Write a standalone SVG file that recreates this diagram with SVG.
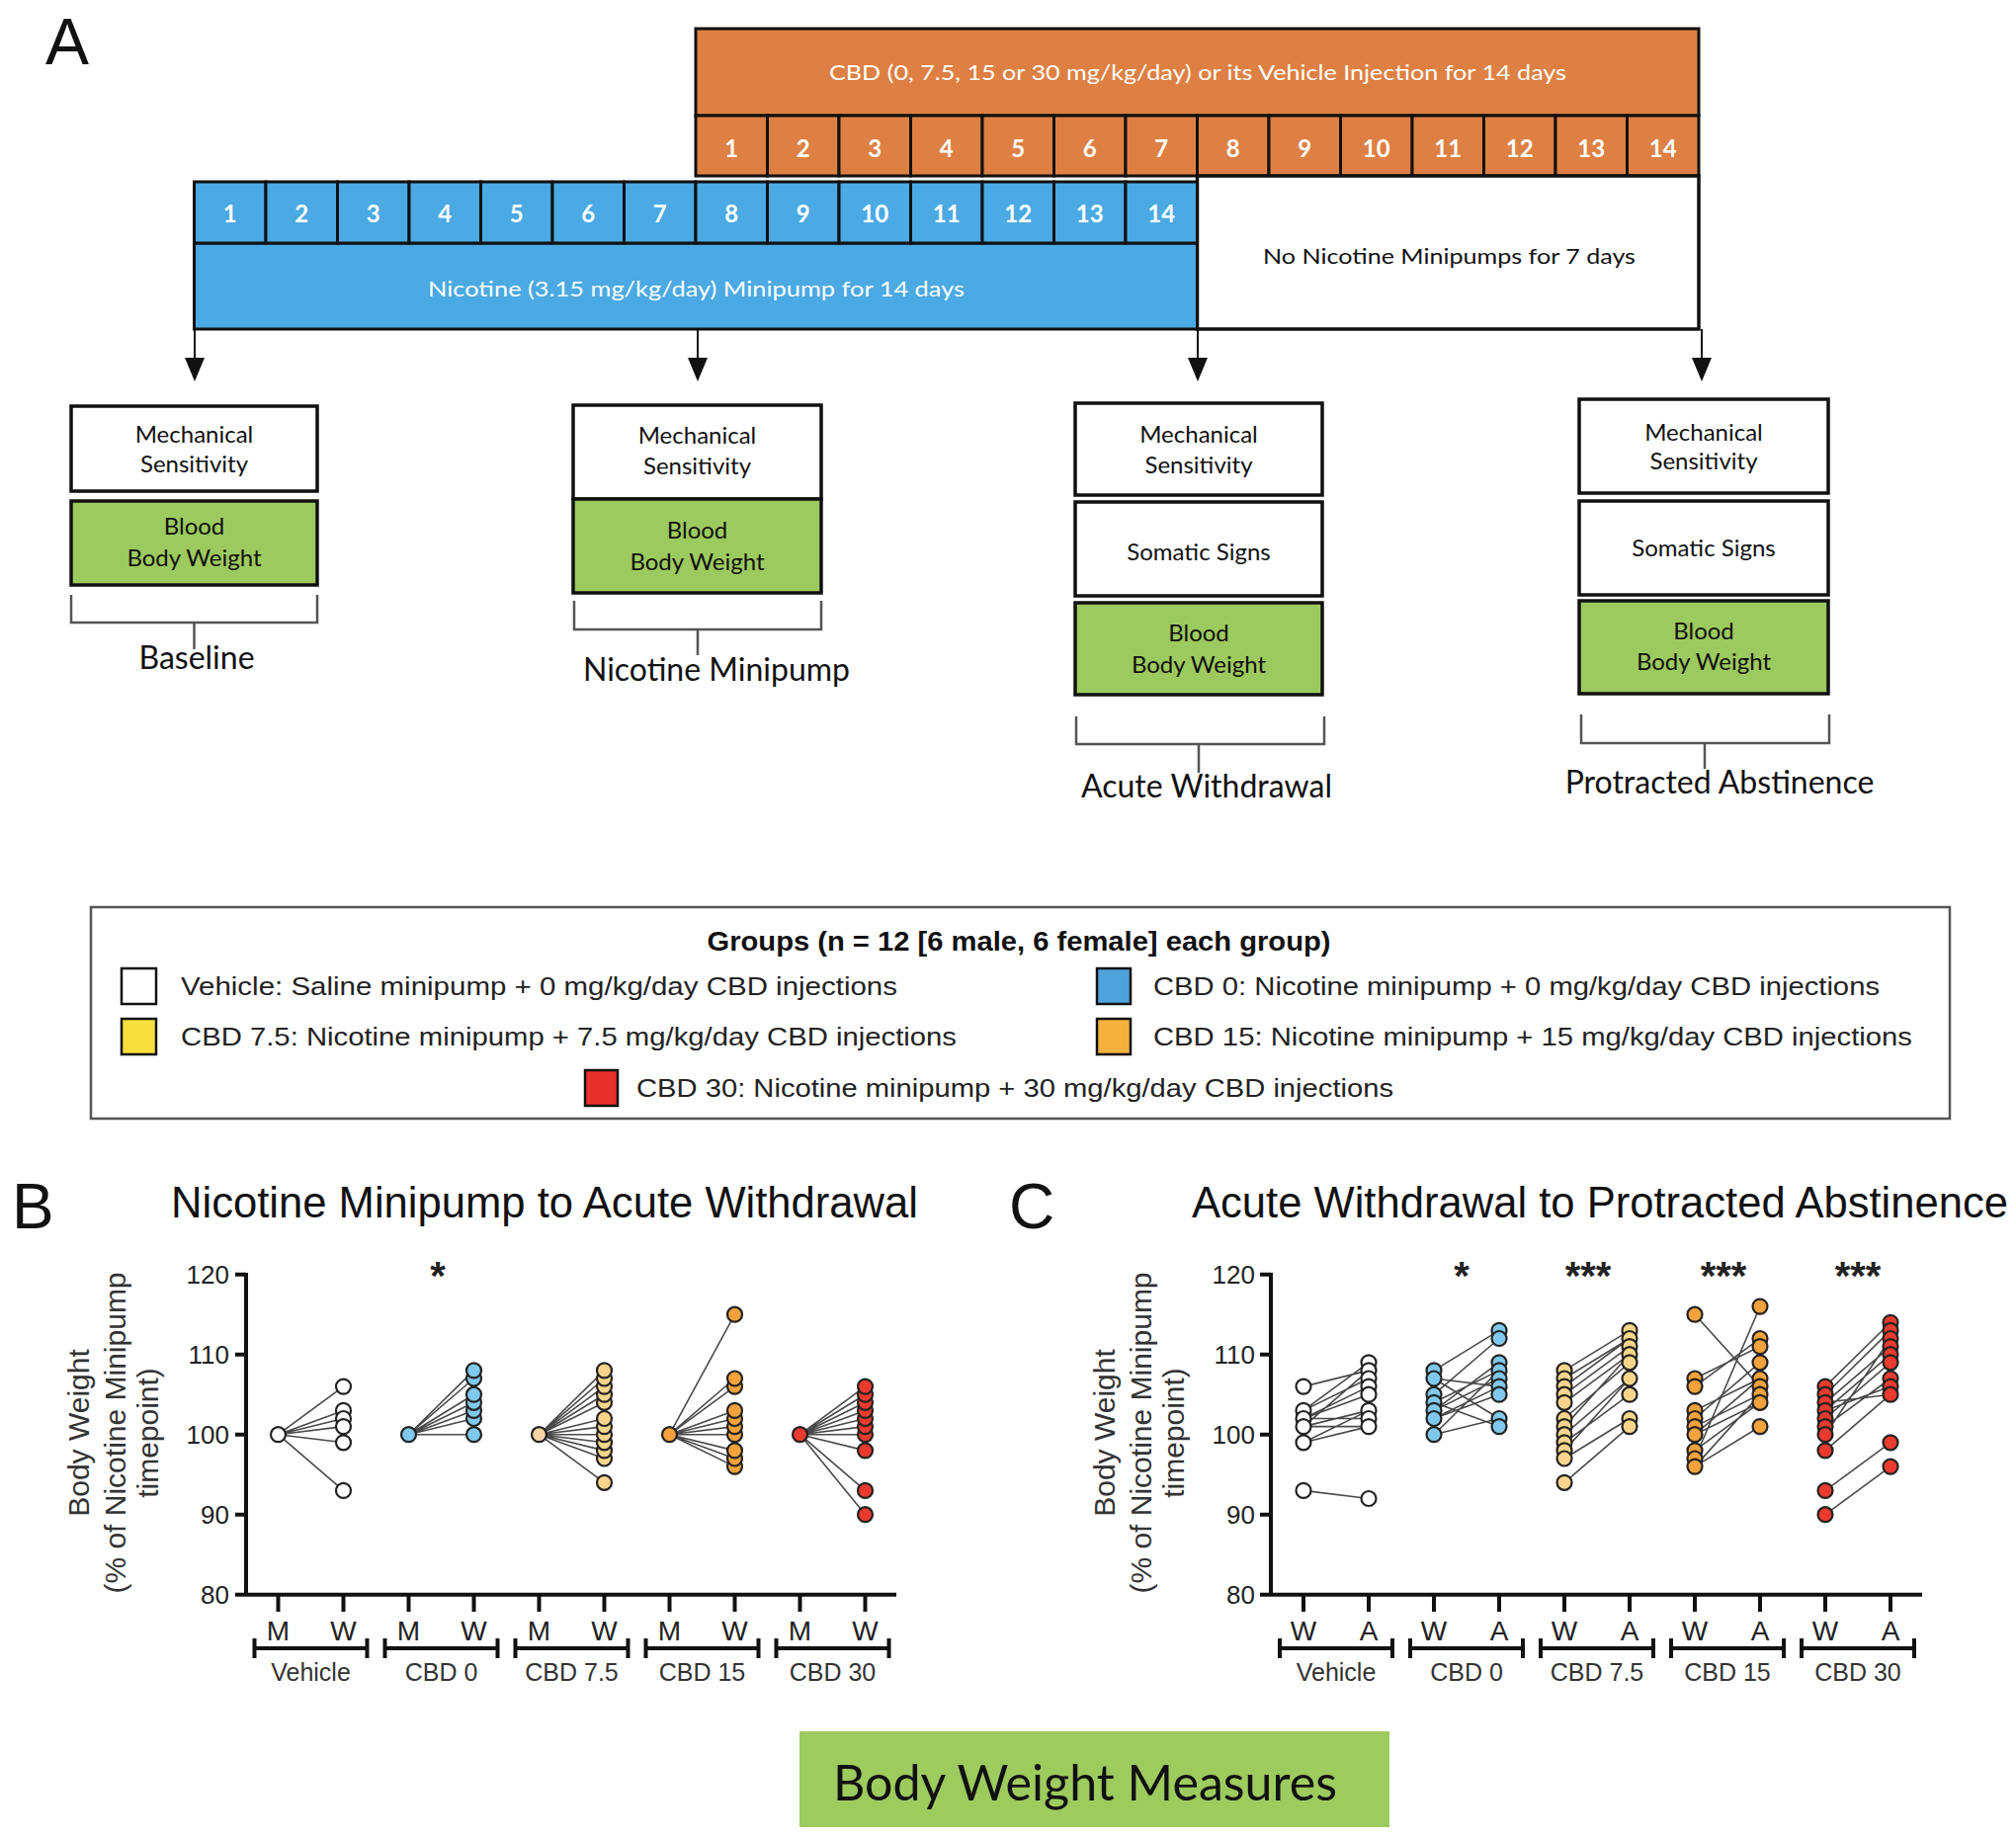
<svg xmlns="http://www.w3.org/2000/svg" width="2040" height="1860" viewBox="0 0 2040 1860">
<style>
.cal{font-family:Lato,"Open Sans","Liberation Sans",sans-serif}
.ar{font-family:"Liberation Sans",Arial,sans-serif}
.or{fill:#DE8043;stroke:#111;stroke-width:3}
.bl{fill:#4BA9E3;stroke:#111;stroke-width:3}
.gr{fill:#9DCA5E;stroke:#111;stroke-width:3.5}
.wb{fill:#fff;stroke:#111;stroke-width:3.5}
.num{font-size:24px;fill:#fff;text-anchor:middle;font-weight:bold}
.mtxt{font-size:24px;fill:#111;text-anchor:middle}
.lab{font-size:32px;fill:#111;text-anchor:middle}
.brk{fill:none;stroke:#555;stroke-width:2.5}
.ax{stroke:#111;stroke-width:4;fill:none}
.tl{font-size:26px;fill:#222;text-anchor:end}
.xl{font-size:28px;fill:#222;text-anchor:middle}
.gl{font-size:25px;fill:#333;text-anchor:middle}
.yt{font-size:30px;fill:#333;text-anchor:middle}
.dl{stroke:#4a4a4a;stroke-width:1.6;fill:none}
.pt{stroke:#222;stroke-width:2.2}
.pv{fill:#fff}.p0{fill:#80C8EC}.p7{fill:#F8D58A}.p7m{fill:#F9D3A5}.p15{fill:#F3A23C}.p30{fill:#EA3B2F}
.lg{font-size:26px;fill:#222}
.sq{stroke:#111;stroke-width:2.5}
.ast{font-size:40px;font-weight:bold;fill:#222;text-anchor:middle}
</style>

<text class="ar" x="46" y="65" font-size="66" fill="#111">A</text>

<g id="timeline">
  <g id="cbd-bar">
    <rect class="or" x="704" y="29" width="1015" height="88"/>
    <text class="cal" x="1212" y="81" font-size="22" fill="#fff" text-anchor="middle" textLength="746" lengthAdjust="spacingAndGlyphs">CBD (0, 7.5, 15 or 30 mg/kg/day) or its Vehicle Injection for 14 days</text>
    <g class="cal">
      <rect class="or" x="704" y="117" width="72.5" height="61"/><text class="num" x="740.25" y="159">1</text>
      <rect class="or" x="776.5" y="117" width="72.5" height="61"/><text class="num" x="812.75" y="159">2</text>
      <rect class="or" x="849" y="117" width="72.5" height="61"/><text class="num" x="885.25" y="159">3</text>
      <rect class="or" x="921.5" y="117" width="72.5" height="61"/><text class="num" x="957.75" y="159">4</text>
      <rect class="or" x="994" y="117" width="72.5" height="61"/><text class="num" x="1030.25" y="159">5</text>
      <rect class="or" x="1066.5" y="117" width="72.5" height="61"/><text class="num" x="1102.75" y="159">6</text>
      <rect class="or" x="1139" y="117" width="72.5" height="61"/><text class="num" x="1175.25" y="159">7</text>
      <rect class="or" x="1211.5" y="117" width="72.5" height="61"/><text class="num" x="1247.75" y="159">8</text>
      <rect class="or" x="1284" y="117" width="72.5" height="61"/><text class="num" x="1320.25" y="159">9</text>
      <rect class="or" x="1356.5" y="117" width="72.5" height="61"/><text class="num" x="1392.75" y="159">10</text>
      <rect class="or" x="1429" y="117" width="72.5" height="61"/><text class="num" x="1465.25" y="159">11</text>
      <rect class="or" x="1501.5" y="117" width="72.5" height="61"/><text class="num" x="1537.75" y="159">12</text>
      <rect class="or" x="1574" y="117" width="72.5" height="61"/><text class="num" x="1610.25" y="159">13</text>
      <rect class="or" x="1646.5" y="117" width="72.5" height="61"/><text class="num" x="1682.75" y="159">14</text>
    </g>
  </g>
  <g id="no-nicotine">
    <rect class="wb" x="1211.5" y="178" width="507.5" height="155" stroke-width="3"/>
    <text class="cal" x="1466.5" y="267" font-size="22" fill="#111" text-anchor="middle" textLength="377" lengthAdjust="spacingAndGlyphs">No Nicotine Minipumps for 7 days</text>
  </g>
  <g id="nicotine-bar">
    <rect class="bl" x="196.5" y="246" width="1015" height="87"/>
    <text class="cal" x="704.5" y="300" font-size="22" fill="#fff" text-anchor="middle" textLength="543" lengthAdjust="spacingAndGlyphs">Nicotine (3.15 mg/kg/day) Minipump for 14 days</text>
    <g class="cal">
      <rect class="bl" x="196.5" y="184" width="72.5" height="62"/><text class="num" x="232.75" y="225">1</text>
      <rect class="bl" x="269" y="184" width="72.5" height="62"/><text class="num" x="305.25" y="225">2</text>
      <rect class="bl" x="341.5" y="184" width="72.5" height="62"/><text class="num" x="377.75" y="225">3</text>
      <rect class="bl" x="414" y="184" width="72.5" height="62"/><text class="num" x="450.25" y="225">4</text>
      <rect class="bl" x="486.5" y="184" width="72.5" height="62"/><text class="num" x="522.75" y="225">5</text>
      <rect class="bl" x="559" y="184" width="72.5" height="62"/><text class="num" x="595.25" y="225">6</text>
      <rect class="bl" x="631.5" y="184" width="72.5" height="62"/><text class="num" x="667.75" y="225">7</text>
      <rect class="bl" x="704" y="184" width="72.5" height="62"/><text class="num" x="740.25" y="225">8</text>
      <rect class="bl" x="776.5" y="184" width="72.5" height="62"/><text class="num" x="812.75" y="225">9</text>
      <rect class="bl" x="849" y="184" width="72.5" height="62"/><text class="num" x="885.25" y="225">10</text>
      <rect class="bl" x="921.5" y="184" width="72.5" height="62"/><text class="num" x="957.75" y="225">11</text>
      <rect class="bl" x="994" y="184" width="72.5" height="62"/><text class="num" x="1030.25" y="225">12</text>
      <rect class="bl" x="1066.5" y="184" width="72.5" height="62"/><text class="num" x="1102.75" y="225">13</text>
      <rect class="bl" x="1139" y="184" width="72.5" height="62"/><text class="num" x="1175.25" y="225">14</text>
    </g>
  </g>
</g>

<g id="connectors">
  <g stroke="#111" stroke-width="2">
    <line x1="197" y1="333" x2="197" y2="364"/>
    <line x1="706" y1="333" x2="706" y2="364"/>
    <line x1="1212" y1="333" x2="1212" y2="364"/>
    <line x1="1722" y1="333" x2="1722" y2="364"/>
  </g>
  <g fill="#111">
    <polygon points="187,362 207,362 197,386"/>
    <polygon points="696,362 716,362 706,386"/>
    <polygon points="1202,362 1222,362 1212,386"/>
    <polygon points="1712,362 1732,362 1722,386"/>
  </g>
  <path class="brk" d="M72 602V630H321V602M196.5 630V657"/>
  <path class="brk" d="M581 608V637H831V608M706 637V663"/>
  <path class="brk" d="M1089 725V753H1340V725M1213 753V782"/>
  <path class="brk" d="M1600 723V752H1851V723M1725 752V778"/>
</g>

<g id="baseline" class="cal">
  <rect class="wb" x="72" y="411" width="249" height="86"/>
  <text class="mtxt" x="196.5" y="448">Mechanical</text>
  <text class="mtxt" x="196.5" y="478">Sensitivity</text>
  <rect class="gr" x="72" y="507" width="249" height="85"/>
  <text class="mtxt" x="196.5" y="541">Blood</text>
  <text class="mtxt" x="196.5" y="573">Body Weight</text>
  <text class="lab" x="199" y="677">Baseline</text>
</g>

<g id="nicotine-minipump" class="cal">
  <rect class="wb" x="580" y="410" width="251" height="95"/>
  <text class="mtxt" x="705.5" y="449">Mechanical</text>
  <text class="mtxt" x="705.5" y="480">Sensitivity</text>
  <rect class="gr" x="580" y="505" width="251" height="95"/>
  <text class="mtxt" x="705.5" y="545">Blood</text>
  <text class="mtxt" x="705.5" y="577">Body Weight</text>
  <text class="lab" x="725" y="689">Nicotine Minipump</text>
</g>

<g id="acute-withdrawal" class="cal">
  <rect class="wb" x="1088" y="408" width="250" height="93"/>
  <text class="mtxt" x="1213" y="448">Mechanical</text>
  <text class="mtxt" x="1213" y="479">Sensitivity</text>
  <rect class="wb" x="1088" y="508" width="250" height="95"/>
  <text class="mtxt" x="1213" y="567">Somatic Signs</text>
  <rect class="gr" x="1088" y="610" width="250" height="93"/>
  <text class="mtxt" x="1213" y="649">Blood</text>
  <text class="mtxt" x="1213" y="681">Body Weight</text>
  <text class="lab" x="1221" y="807">Acute Withdrawal</text>
</g>

<g id="protracted-abstinence" class="cal">
  <rect class="wb" x="1598" y="404" width="252" height="95"/>
  <text class="mtxt" x="1724" y="446">Mechanical</text>
  <text class="mtxt" x="1724" y="475">Sensitivity</text>
  <rect class="wb" x="1598" y="507" width="252" height="95"/>
  <text class="mtxt" x="1724" y="563">Somatic Signs</text>
  <rect class="gr" x="1598" y="608" width="252" height="94"/>
  <text class="mtxt" x="1724" y="647">Blood</text>
  <text class="mtxt" x="1724" y="678">Body Weight</text>
  <text class="lab" x="1740" y="803">Protracted Abstinence</text>
</g>

<g id="legend" class="ar">
  <rect x="92" y="918" width="1881" height="214" fill="#fff" stroke="#555" stroke-width="2.5"/>
  <text x="1031" y="962" font-size="27" font-weight="bold" fill="#111" text-anchor="middle" textLength="631" lengthAdjust="spacingAndGlyphs">Groups (n = 12 [6 male, 6 female] each group)</text>
  <rect class="sq" x="123" y="980" width="35" height="36" fill="#fff"/>
  <text class="lg" x="183" y="1007" textLength="725" lengthAdjust="spacingAndGlyphs">Vehicle: Saline minipump + 0 mg/kg/day CBD injections</text>
  <rect class="sq" x="1110" y="980" width="34" height="36" fill="#4EA3DC"/>
  <text class="lg" x="1167" y="1007" textLength="735" lengthAdjust="spacingAndGlyphs">CBD 0: Nicotine minipump + 0 mg/kg/day CBD injections</text>
  <rect class="sq" x="123" y="1031" width="35" height="36" fill="#F8DF3B"/>
  <text class="lg" x="183" y="1058" textLength="785" lengthAdjust="spacingAndGlyphs">CBD 7.5: Nicotine minipump + 7.5 mg/kg/day CBD injections</text>
  <rect class="sq" x="1110" y="1031" width="34" height="36" fill="#F4B13E"/>
  <text class="lg" x="1167" y="1058" textLength="768" lengthAdjust="spacingAndGlyphs">CBD 15: Nicotine minipump + 15 mg/kg/day CBD injections</text>
  <rect class="sq" x="592" y="1083" width="33" height="36" fill="#E8302A"/>
  <text class="lg" x="644" y="1110" textLength="766" lengthAdjust="spacingAndGlyphs">CBD 30: Nicotine minipump + 30 mg/kg/day CBD injections</text>
</g>

<g id="panel-B" class="ar">
  <text x="12" y="1243" font-size="64" fill="#111">B</text>
  <text x="551" y="1232" font-size="44" fill="#111" text-anchor="middle" textLength="756" lengthAdjust="spacingAndGlyphs">Nicotine Minipump to Acute Withdrawal</text>
  <text class="yt" transform="translate(90,1450) rotate(-90)">Body Weight</text>
  <text class="yt" transform="translate(127,1450) rotate(-90)">(% of Nicotine Minipump</text>
  <text class="yt" transform="translate(160,1450) rotate(-90)">timepoint)</text>
  <path class="ax" d="M249 1288V1613.7H907M238 1289.7H249M238 1370.7H249M238 1451.7H249M238 1532.7H249M238 1613.7H249"/>
  <text class="tl" x="232" y="1299">120</text>
  <text class="tl" x="232" y="1380">110</text>
  <text class="tl" x="232" y="1461">100</text>
  <text class="tl" x="232" y="1542">90</text>
  <text class="tl" x="232" y="1623">80</text>
  <path class="ax" d="M281.5 1613.7V1631M347.5 1613.7V1631M413.5 1613.7V1631M479.5 1613.7V1631M545.5 1613.7V1631M611.5 1613.7V1631M677.5 1613.7V1631M743.5 1613.7V1631M809.5 1613.7V1631M875.5 1613.7V1631"/>
  <g class="xl">
    <text x="281.5" y="1660">M</text><text x="347.5" y="1660">W</text>
    <text x="413.5" y="1660">M</text><text x="479.5" y="1660">W</text>
    <text x="545.5" y="1660">M</text><text x="611.5" y="1660">W</text>
    <text x="677.5" y="1660">M</text><text x="743.5" y="1660">W</text>
    <text x="809.5" y="1660">M</text><text x="875.5" y="1660">W</text>
  </g>
  <path class="ax" d="M257.5 1668H371.5M257.5 1658V1678M371.5 1658V1678M389.5 1668H503.5M389.5 1658V1678M503.5 1658V1678M521.5 1668H635.5M521.5 1658V1678M635.5 1658V1678M653.5 1668H767.5M653.5 1658V1678M767.5 1658V1678M785.5 1668H899.5M785.5 1658V1678M899.5 1658V1678"/>
  <g class="gl">
    <text x="314.5" y="1701">Vehicle</text>
    <text x="446.5" y="1701">CBD 0</text>
    <text x="578.5" y="1701">CBD 7.5</text>
    <text x="710.5" y="1701">CBD 15</text>
    <text x="842.5" y="1701">CBD 30</text>
  </g>
  <text class="ast" x="443" y="1305">*</text>
  <g id="B-vehicle" transform="translate(281.5,0)">
    <path class="dl" d="M0 1451.7L66 1403.1M0 1451.7L66 1427.4M0 1451.7L66 1435.5M0 1451.7L66 1443.6M0 1451.7L66 1459.8M0 1451.7L66 1508.4"/>
    <g class="pt pv"><circle cx="0" cy="1451.7" r="7.5"/><circle cx="66" cy="1403.1" r="7.5"/><circle cx="66" cy="1427.4" r="7.5"/><circle cx="66" cy="1435.5" r="7.5"/><circle cx="66" cy="1443.6" r="7.5"/><circle cx="66" cy="1459.8" r="7.5"/><circle cx="66" cy="1508.4" r="7.5"/></g>
  </g>
  <g id="B-cbd0" transform="translate(413.5,0)">
    <path class="dl" d="M0 1451.7L66 1386.9M0 1451.7L66 1395M0 1451.7L66 1411.2M0 1451.7L66 1419.3M0 1451.7L66 1427.4M0 1451.7L66 1435.5M0 1451.7L66 1451.7"/>
    <g class="pt p0"><circle cx="0" cy="1451.7" r="7.5"/><circle cx="66" cy="1451.7" r="7.5"/><circle cx="66" cy="1435.5" r="7.5"/><circle cx="66" cy="1427.4" r="7.5"/><circle cx="66" cy="1419.3" r="7.5"/><circle cx="66" cy="1411.2" r="7.5"/><circle cx="66" cy="1395" r="7.5"/><circle cx="66" cy="1386.9" r="7.5"/></g>
  </g>
  <g id="B-cbd75" transform="translate(545.5,0)">
    <path class="dl" d="M0 1451.7L66 1386.9M0 1451.7L66 1395M0 1451.7L66 1403.1M0 1451.7L66 1411.2M0 1451.7L66 1419.3M0 1451.7L66 1435.5M0 1451.7L66 1443.6M0 1451.7L66 1451.7M0 1451.7L66 1459.8M0 1451.7L66 1467.9M0 1451.7L66 1476M0 1451.7L66 1500.3"/>
    <circle class="pt p7m" cx="0" cy="1451.7" r="7.5"/>
    <g class="pt p7"><circle cx="66" cy="1500.3" r="7.5"/><circle cx="66" cy="1476" r="7.5"/><circle cx="66" cy="1467.9" r="7.5"/><circle cx="66" cy="1459.8" r="7.5"/><circle cx="66" cy="1451.7" r="7.5"/><circle cx="66" cy="1443.6" r="7.5"/><circle cx="66" cy="1435.5" r="7.5"/><circle cx="66" cy="1419.3" r="7.5"/><circle cx="66" cy="1411.2" r="7.5"/><circle cx="66" cy="1403.1" r="7.5"/><circle cx="66" cy="1395" r="7.5"/><circle cx="66" cy="1386.9" r="7.5"/></g>
  </g>
  <g id="B-cbd15" transform="translate(677.5,0)">
    <path class="dl" d="M0 1451.7L66 1330.2M0 1451.7L66 1395M0 1451.7L66 1403.1M0 1451.7L66 1427.4M0 1451.7L66 1435.5M0 1451.7L66 1443.6M0 1451.7L66 1451.7M0 1451.7L66 1467.9M0 1451.7L66 1476M0 1451.7L66 1484.1"/>
    <g class="pt p15"><circle cx="0" cy="1451.7" r="7.5"/><circle cx="66" cy="1484.1" r="7.5"/><circle cx="66" cy="1476" r="7.5"/><circle cx="66" cy="1467.9" r="7.5"/><circle cx="66" cy="1451.7" r="7.5"/><circle cx="66" cy="1443.6" r="7.5"/><circle cx="66" cy="1435.5" r="7.5"/><circle cx="66" cy="1427.4" r="7.5"/><circle cx="66" cy="1403.1" r="7.5"/><circle cx="66" cy="1395" r="7.5"/><circle cx="66" cy="1330.2" r="7.5"/></g>
  </g>
  <g id="B-cbd30" transform="translate(809.5,0)">
    <path class="dl" d="M0 1451.7L66 1403.1M0 1451.7L66 1411.2M0 1451.7L66 1419.3M0 1451.7L66 1427.4M0 1451.7L66 1435.5M0 1451.7L66 1443.6M0 1451.7L66 1451.7M0 1451.7L66 1467.9M0 1451.7L66 1508.4M0 1451.7L66 1532.7"/>
    <g class="pt p30"><circle cx="0" cy="1451.7" r="7.5"/><circle cx="66" cy="1532.7" r="7.5"/><circle cx="66" cy="1508.4" r="7.5"/><circle cx="66" cy="1467.9" r="7.5"/><circle cx="66" cy="1451.7" r="7.5"/><circle cx="66" cy="1443.6" r="7.5"/><circle cx="66" cy="1435.5" r="7.5"/><circle cx="66" cy="1427.4" r="7.5"/><circle cx="66" cy="1419.3" r="7.5"/><circle cx="66" cy="1411.2" r="7.5"/><circle cx="66" cy="1403.1" r="7.5"/></g>
  </g>
</g>

<g id="panel-C" class="ar">
  <text x="1021" y="1243" font-size="64" fill="#111">C</text>
  <text x="1619" y="1232" font-size="44" fill="#111" text-anchor="middle" textLength="826" lengthAdjust="spacingAndGlyphs">Acute Withdrawal to Protracted Abstinence</text>
  <text class="yt" transform="translate(1128,1450) rotate(-90)">Body Weight</text>
  <text class="yt" transform="translate(1165,1450) rotate(-90)">(% of Nicotine Minipump</text>
  <text class="yt" transform="translate(1198,1450) rotate(-90)">timepoint)</text>
  <path class="ax" d="M1286 1288V1613.7H1945M1275 1289.7H1286M1275 1370.7H1286M1275 1451.7H1286M1275 1532.7H1286M1275 1613.7H1286"/>
  <text class="tl" x="1270" y="1299">120</text>
  <text class="tl" x="1270" y="1380">110</text>
  <text class="tl" x="1270" y="1461">100</text>
  <text class="tl" x="1270" y="1542">90</text>
  <text class="tl" x="1270" y="1623">80</text>
  <path class="ax" d="M1319 1613.7V1631M1385 1613.7V1631M1451 1613.7V1631M1517 1613.7V1631M1583 1613.7V1631M1649 1613.7V1631M1715 1613.7V1631M1781 1613.7V1631M1847 1613.7V1631M1913 1613.7V1631"/>
  <g class="xl">
    <text x="1319" y="1660">W</text><text x="1385" y="1660">A</text>
    <text x="1451" y="1660">W</text><text x="1517" y="1660">A</text>
    <text x="1583" y="1660">W</text><text x="1649" y="1660">A</text>
    <text x="1715" y="1660">W</text><text x="1781" y="1660">A</text>
    <text x="1847" y="1660">W</text><text x="1913" y="1660">A</text>
  </g>
  <path class="ax" d="M1295 1668H1409M1295 1658V1678M1409 1658V1678M1427 1668H1541M1427 1658V1678M1541 1658V1678M1559 1668H1673M1559 1658V1678M1673 1658V1678M1691 1668H1805M1691 1658V1678M1805 1658V1678M1823 1668H1937M1823 1658V1678M1937 1658V1678"/>
  <g class="gl">
    <text x="1352" y="1701">Vehicle</text>
    <text x="1484" y="1701">CBD 0</text>
    <text x="1616" y="1701">CBD 7.5</text>
    <text x="1748" y="1701">CBD 15</text>
    <text x="1880" y="1701">CBD 30</text>
  </g>
  <text class="ast" x="1479" y="1305">*</text>
  <text class="ast" x="1607" y="1305">***</text>
  <text class="ast" x="1744" y="1305">***</text>
  <text class="ast" x="1880" y="1305">***</text>
  <g id="C-vehicle" transform="translate(1319,0)">
    <path class="dl" d="M0 1403.1L66 1386.9M0 1427.4L66 1378.8M0 1427.4L66 1395M0 1435.5L66 1403.1M0 1435.5L66 1435.5M0 1435.5L66 1411.2M0 1443.6L66 1427.4M0 1443.6L66 1443.6M0 1443.6L66 1386.9M0 1459.8L66 1427.4M0 1459.8L66 1443.6M0 1508.4L66 1516.5"/>
    <g class="pt pv"><circle cx="0" cy="1403.1" r="7.5"/><circle cx="0" cy="1427.4" r="7.5"/><circle cx="0" cy="1435.5" r="7.5"/><circle cx="0" cy="1443.6" r="7.5"/><circle cx="0" cy="1459.8" r="7.5"/><circle cx="0" cy="1508.4" r="7.5"/>
    <circle cx="66" cy="1378.8" r="7.5"/><circle cx="66" cy="1386.9" r="7.5"/><circle cx="66" cy="1395" r="7.5"/><circle cx="66" cy="1403.1" r="7.5"/><circle cx="66" cy="1411.2" r="7.5"/><circle cx="66" cy="1427.4" r="7.5"/><circle cx="66" cy="1435.5" r="7.5"/><circle cx="66" cy="1443.6" r="7.5"/><circle cx="66" cy="1516.5" r="7.5"/></g>
  </g>
  <g id="C-cbd0" transform="translate(1451,0)">
    <path class="dl" d="M0 1386.9L66 1346.4M0 1395L66 1435.5M0 1395L66 1403.1M0 1411.2L66 1354.5M0 1419.3L66 1386.9M0 1419.3L66 1443.6M0 1427.4L66 1378.8M0 1427.4L66 1395M0 1435.5L66 1411.2M0 1435.5L66 1403.1M0 1451.7L66 1386.9M0 1451.7L66 1435.5"/>
    <g class="pt p0"><circle cx="0" cy="1386.9" r="7.5"/><circle cx="0" cy="1395" r="7.5"/><circle cx="0" cy="1411.2" r="7.5"/><circle cx="0" cy="1419.3" r="7.5"/><circle cx="0" cy="1427.4" r="7.5"/><circle cx="0" cy="1435.5" r="7.5"/><circle cx="0" cy="1451.7" r="7.5"/>
    <circle cx="66" cy="1346.4" r="7.5"/><circle cx="66" cy="1354.5" r="7.5"/><circle cx="66" cy="1378.8" r="7.5"/><circle cx="66" cy="1386.9" r="7.5"/><circle cx="66" cy="1395" r="7.5"/><circle cx="66" cy="1403.1" r="7.5"/><circle cx="66" cy="1411.2" r="7.5"/><circle cx="66" cy="1435.5" r="7.5"/><circle cx="66" cy="1443.6" r="7.5"/></g>
  </g>
  <g id="C-cbd75" transform="translate(1583,0)">
    <path class="dl" d="M0 1386.9L66 1346.4M0 1395L66 1354.5M0 1403.1L66 1354.5M0 1411.2L66 1362.6M0 1419.3L66 1370.7M0 1435.5L66 1378.8M0 1443.6L66 1370.7M0 1451.7L66 1395M0 1459.8L66 1411.2M0 1467.9L66 1395M0 1476L66 1435.5M0 1500.3L66 1443.6"/>
    <g class="pt p7"><circle cx="0" cy="1386.9" r="7.5"/><circle cx="0" cy="1395" r="7.5"/><circle cx="0" cy="1403.1" r="7.5"/><circle cx="0" cy="1411.2" r="7.5"/><circle cx="0" cy="1419.3" r="7.5"/><circle cx="0" cy="1435.5" r="7.5"/><circle cx="0" cy="1443.6" r="7.5"/><circle cx="0" cy="1451.7" r="7.5"/><circle cx="0" cy="1459.8" r="7.5"/><circle cx="0" cy="1467.9" r="7.5"/><circle cx="0" cy="1476" r="7.5"/><circle cx="0" cy="1500.3" r="7.5"/>
    <circle cx="66" cy="1346.4" r="7.5"/><circle cx="66" cy="1354.5" r="7.5"/><circle cx="66" cy="1362.6" r="7.5"/><circle cx="66" cy="1370.7" r="7.5"/><circle cx="66" cy="1378.8" r="7.5"/><circle cx="66" cy="1395" r="7.5"/><circle cx="66" cy="1411.2" r="7.5"/><circle cx="66" cy="1435.5" r="7.5"/><circle cx="66" cy="1443.6" r="7.5"/></g>
  </g>
  <g id="C-cbd15" transform="translate(1715,0)">
    <path class="dl" d="M0 1330.2L66 1403.1M0 1395L66 1362.6M0 1403.1L66 1354.5M0 1427.4L66 1395M0 1435.5L66 1378.8M0 1443.6L66 1411.2M0 1451.7L66 1419.3M0 1451.7L66 1395M0 1467.9L66 1419.3M0 1476L66 1322.1M0 1484.1L66 1443.6M0 1484.1L66 1411.2"/>
    <g class="pt p15"><circle cx="0" cy="1330.2" r="7.5"/><circle cx="0" cy="1395" r="7.5"/><circle cx="0" cy="1403.1" r="7.5"/><circle cx="0" cy="1427.4" r="7.5"/><circle cx="0" cy="1435.5" r="7.5"/><circle cx="0" cy="1443.6" r="7.5"/><circle cx="0" cy="1451.7" r="7.5"/><circle cx="0" cy="1467.9" r="7.5"/><circle cx="0" cy="1476" r="7.5"/><circle cx="0" cy="1484.1" r="7.5"/>
    <circle cx="66" cy="1322.1" r="7.5"/><circle cx="66" cy="1354.5" r="7.5"/><circle cx="66" cy="1362.6" r="7.5"/><circle cx="66" cy="1378.8" r="7.5"/><circle cx="66" cy="1395" r="7.5"/><circle cx="66" cy="1403.1" r="7.5"/><circle cx="66" cy="1411.2" r="7.5"/><circle cx="66" cy="1419.3" r="7.5"/><circle cx="66" cy="1443.6" r="7.5"/></g>
  </g>
  <g id="C-cbd30" transform="translate(1847,0)">
    <path class="dl" d="M0 1403.1L66 1338.3M0 1411.2L66 1346.4M0 1419.3L66 1362.6M0 1419.3L66 1411.2M0 1427.4L66 1370.7M0 1427.4L66 1403.1M0 1435.5L66 1378.8M0 1443.6L66 1395M0 1451.7L66 1354.5M0 1467.9L66 1411.2M0 1508.4L66 1459.8M0 1532.7L66 1484.1"/>
    <g class="pt p30"><circle cx="0" cy="1403.1" r="7.5"/><circle cx="0" cy="1411.2" r="7.5"/><circle cx="0" cy="1419.3" r="7.5"/><circle cx="0" cy="1427.4" r="7.5"/><circle cx="0" cy="1435.5" r="7.5"/><circle cx="0" cy="1443.6" r="7.5"/><circle cx="0" cy="1451.7" r="7.5"/><circle cx="0" cy="1467.9" r="7.5"/><circle cx="0" cy="1508.4" r="7.5"/><circle cx="0" cy="1532.7" r="7.5"/>
    <circle cx="66" cy="1338.3" r="7.5"/><circle cx="66" cy="1346.4" r="7.5"/><circle cx="66" cy="1354.5" r="7.5"/><circle cx="66" cy="1362.6" r="7.5"/><circle cx="66" cy="1370.7" r="7.5"/><circle cx="66" cy="1378.8" r="7.5"/><circle cx="66" cy="1395" r="7.5"/><circle cx="66" cy="1403.1" r="7.5"/><circle cx="66" cy="1411.2" r="7.5"/><circle cx="66" cy="1459.8" r="7.5"/><circle cx="66" cy="1484.1" r="7.5"/></g>
  </g>
</g>

<g id="body-weight-measures">
  <rect x="809" y="1752" width="597" height="97" fill="#9DCB5E"/>
  <text class="cal" x="1098" y="1822" font-size="50" fill="#111" text-anchor="middle" textLength="510" lengthAdjust="spacingAndGlyphs">Body Weight Measures</text>
</g>
</svg>
